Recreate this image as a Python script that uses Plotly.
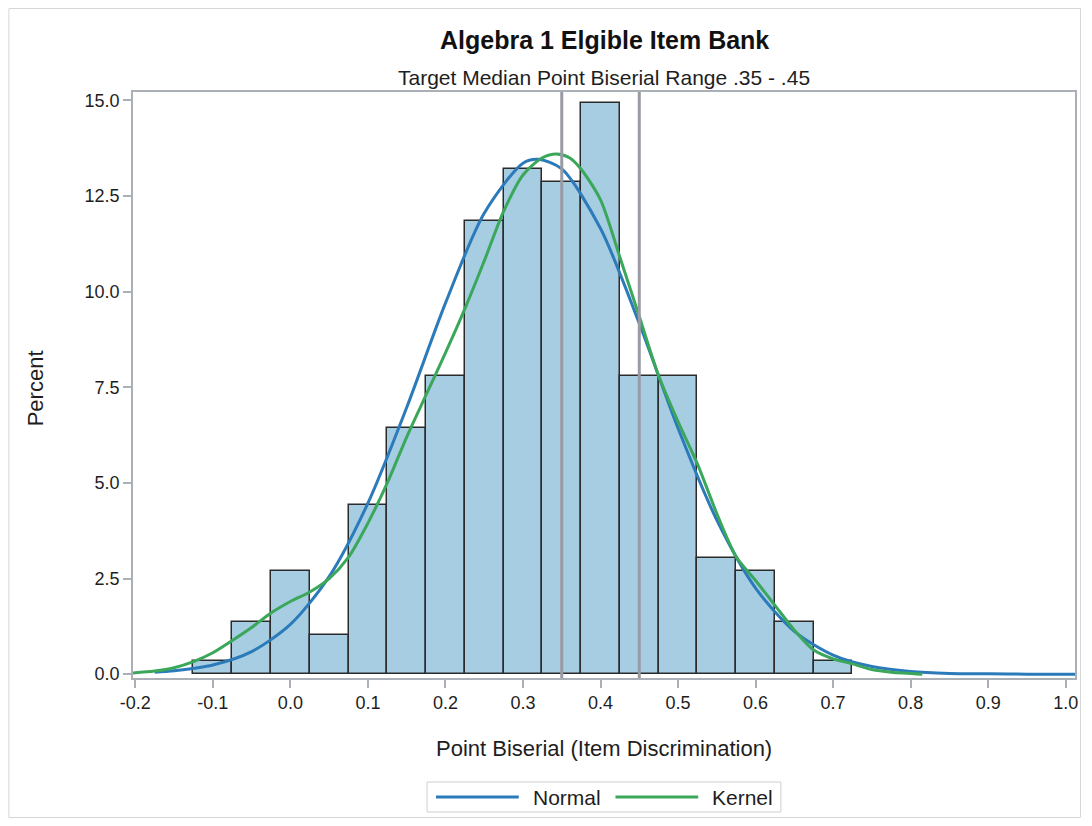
import plotly.graph_objects as go

# ---- data ----
bin_centers = [-0.10, -0.05, 0.00, 0.05, 0.10, 0.15, 0.20, 0.25, 0.30, 0.35,
               0.40, 0.45, 0.50, 0.55, 0.60, 0.65, 0.70]
percents = [0.34, 1.36, 2.71, 1.02, 4.41, 6.44, 7.80, 11.86, 13.22, 12.88,
            14.92, 7.80, 7.80, 3.05, 2.71, 1.36, 0.34]
bin_width = 0.05

normal_x = [-0.175, -0.15, -0.10, -0.05, 0.00, 0.05, 0.10, 0.15, 0.20, 0.25,
            0.30, 0.32, 0.35, 0.40, 0.45, 0.50, 0.55, 0.60, 0.65, 0.70,
            0.75, 0.80, 0.85, 0.90, 0.95, 1.012]
normal_y = [0.05, 0.09, 0.24, 0.59, 1.30, 2.55, 4.47, 6.97, 9.70, 12.05,
            13.36, 13.46, 13.21, 11.65, 9.17, 6.43, 4.03, 2.25, 1.12, 0.50,
            0.20, 0.07, 0.02, 0.01, 0.00, 0.00]

kernel_x = [-0.203, -0.175, -0.15, -0.125, -0.10, -0.075, -0.05, -0.025, 0.00,
            0.025, 0.05, 0.075, 0.10, 0.125, 0.15, 0.175, 0.20, 0.225, 0.25,
            0.275, 0.30, 0.325, 0.343, 0.36, 0.375, 0.40, 0.425, 0.45, 0.475,
            0.50, 0.525, 0.55, 0.575, 0.60, 0.625, 0.65, 0.675, 0.70, 0.725,
            0.75, 0.775, 0.815]
kernel_y = [0.03, 0.08, 0.17, 0.33, 0.56, 0.88, 1.22, 1.60, 1.90,
            2.15, 2.50, 3.06, 3.95, 5.00, 6.20, 7.30, 8.40, 9.55, 10.80,
            12.10, 13.05, 13.50, 13.60, 13.50, 13.20, 12.40, 10.90, 9.35, 7.80,
            6.60, 5.50, 4.20, 3.07, 2.45, 1.80, 1.15, 0.63, 0.40, 0.27,
            0.12, 0.05, 0.00]

ref_lines = [0.35, 0.45]

series_names = ["Normal", "Kernel"]
series_colors = ["#2b7bba", "#3aa75a"]

x_tickvals = [-0.2, -0.1, 0.0, 0.1, 0.2, 0.3, 0.4, 0.5, 0.6, 0.7, 0.8, 0.9, 1.0]
x_ticktext = ["-0.2", "-0.1", "0.0", "0.1", "0.2", "0.3", "0.4", "0.5", "0.6",
              "0.7", "0.8", "0.9", "1.0"]
y_tickvals = [0.0, 2.5, 5.0, 7.5, 10.0, 12.5, 15.0]
y_ticktext = ["0.0", "2.5", "5.0", "7.5", "10.0", "12.5", "15.0"]

FONT = "Liberation Sans, Arial, sans-serif"
AXIS_GREY = "#aab0b5"
TXT = "#1e1e1e"

# figure geometry (page body has an 8px margin)
W, H = 1076, 810
L, R, T, B = 125, 6, 84, 140
PW, PH = W - L - R, H - T - B


def py(fig_y):
    """figure pixel y -> paper y"""
    return (H - B - fig_y) / PH


def px(fig_x):
    """figure pixel x -> paper x"""
    return (fig_x - L) / PW


fig = go.Figure()

fig.add_trace(go.Bar(
    x=bin_centers, y=percents, width=[bin_width] * len(bin_centers),
    marker=dict(color="#a6cde2", line=dict(color="#2b2b2b", width=1.5)),
    showlegend=False, hoverinfo="skip",
))

for xv in ref_lines:
    fig.add_vline(x=xv, line=dict(color="#9a9aa5", width=3), layer="above")

for name, color, xs, ys in zip(series_names, series_colors,
                               [normal_x, kernel_x], [normal_y, kernel_y]):
    fig.add_trace(go.Scatter(
        x=xs, y=ys, mode="lines", name=name, showlegend=False,
        line=dict(color=color, width=3, shape="spline", smoothing=0.8),
    ))

fig.update_layout(
    width=W, height=H,
    margin=dict(l=L, r=R, t=T, b=B),
    paper_bgcolor="white", plot_bgcolor="white",
    font=dict(family=FONT, color=TXT, size=18),
    bargap=0,
    showlegend=False,
    hovermode=False,
)

fig.add_annotation(
    text="<b>Algebra 1 Elgible Item Bank</b>",
    xref="paper", yref="paper", x=0.5, y=py(32),
    xanchor="center", yanchor="middle", showarrow=False,
    font=dict(family=FONT, size=25, color="#111111"),
)
fig.add_annotation(
    text="Target Median Point Biserial Range .35 - .45",
    xref="paper", yref="paper", x=0.5, y=py(69.5),
    xanchor="center", yanchor="middle", showarrow=False,
    font=dict(family=FONT, size=21, color=TXT),
)
fig.add_annotation(
    text="Point Biserial (Item Discrimination)",
    xref="paper", yref="paper", x=0.5, y=py(740),
    xanchor="center", yanchor="middle", showarrow=False,
    font=dict(family=FONT, size=22, color=TXT),
)
fig.add_annotation(
    text="Percent", textangle=-90,
    xref="paper", yref="paper", x=px(27), y=py(380),
    xanchor="center", yanchor="middle", showarrow=False,
    font=dict(family=FONT, size=22, color=TXT),
)

# ---- legend box drawn below the axis title ----
LEG_Y = 789
fig.add_shape(type="rect", xref="paper", yref="paper",
              x0=px(420), x1=px(775), y0=py(LEG_Y + 15), y1=py(LEG_Y - 15),
              line=dict(color="#cfcfcf", width=1), fillcolor="white")
for name, color, lx0, tx in zip(series_names, series_colors, [429, 609], [524, 704]):
    fig.add_shape(type="line", xref="paper", yref="paper",
                  x0=px(lx0), x1=px(lx0 + 83), y0=py(LEG_Y), y1=py(LEG_Y),
                  line=dict(color=color, width=3))
    fig.add_annotation(text=name, xref="paper", yref="paper",
                       x=px(tx), y=py(LEG_Y), xanchor="left", yanchor="middle",
                       showarrow=False,
                       font=dict(family=FONT, size=21, color=TXT))

fig.update_xaxes(
    range=[-0.203, 1.012], tickvals=x_tickvals, ticktext=x_ticktext,
    showline=True, mirror=True, linecolor=AXIS_GREY, linewidth=1.5,
    ticks="outside", ticklen=8, tickcolor=AXIS_GREY, tickwidth=1.5,
    showgrid=False, zeroline=False,
    tickfont=dict(family=FONT, size=18, color=TXT),
)
fig.update_yaxes(
    range=[-0.1, 15.22], tickvals=y_tickvals, ticktext=y_ticktext,
    showline=True, mirror=True, linecolor=AXIS_GREY, linewidth=1.5,
    ticks="outside", ticklen=8, tickcolor=AXIS_GREY, tickwidth=1.5,
    showgrid=False, zeroline=False,
    tickfont=dict(family=FONT, size=18, color=TXT),
)

# outer frame of the graphic
fig.add_shape(type="rect", xref="paper", yref="paper",
              x0=px(0.5), x1=px(W - 0.5), y0=py(H - 0.5), y1=py(0.5),
              line=dict(color="#d6d6d6", width=1), layer="below")

fig.write_html("out.html")
